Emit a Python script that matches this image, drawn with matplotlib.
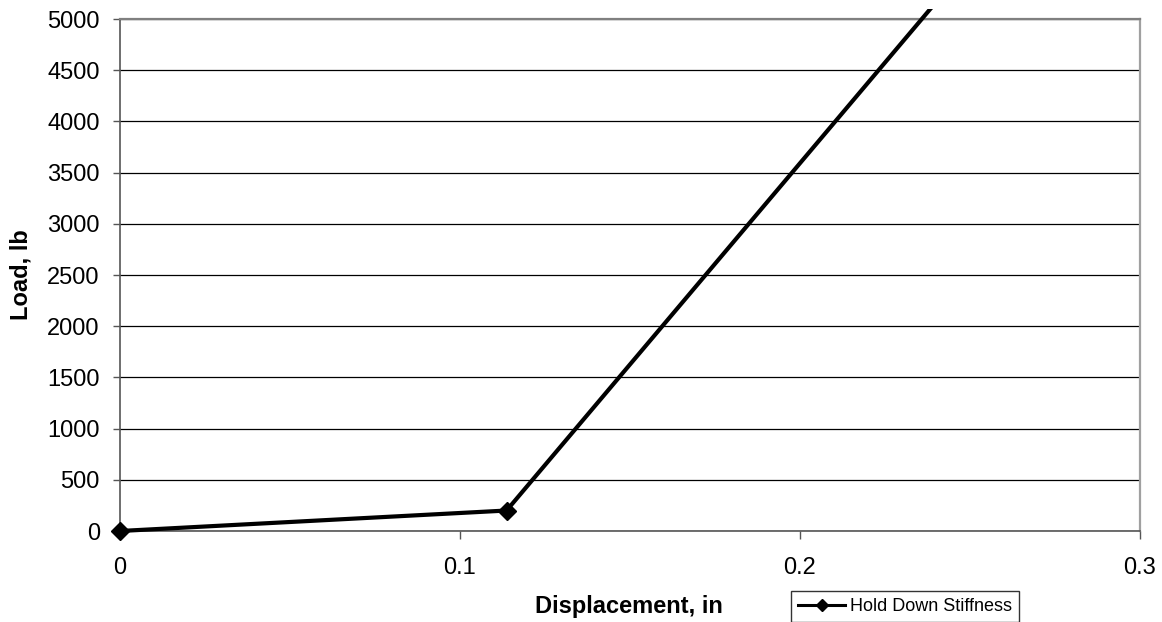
import matplotlib

matplotlib.use("Agg")
import matplotlib.pyplot as plt
from matplotlib.transforms import Bbox, TransformedBbox

# Hold-down stiffness test: displacement (in) vs load (lb)
displacement = [0.0, 0.1137, 0.26]
load = [0.0, 200.0, 5950.0]

x_ticks = [0.0, 0.1, 0.2, 0.3]
x_tick_labels = ["0", "0.1", "0.2", "0.3"]
y_ticks = list(range(0, 5001, 500))

plt.rcParams["font.family"] = ["Liberation Sans", "DejaVu Sans"]

W, H = 1162, 622
fig = plt.figure(figsize=(W / 100, H / 100), dpi=100)
ax = fig.add_axes([120 / W, 91 / H, 1020 / W, 512 / H])

(line,) = ax.plot(displacement, load, color="black", lw=3, marker="D", ms=9,
                  label="Hold Down Stiffness", zorder=5)
# the series runs a little past the top of the plot area before it is cut
line.set_clip_box(TransformedBbox(Bbox([[-0.05, -0.05], [1.05, 1 + 10 / 512]]),
                                  ax.transAxes))

ax.set_xlim(0, 0.3)
ax.set_ylim(0, 5000)
ax.set_xticks(x_ticks)
ax.set_xticklabels(x_tick_labels)
ax.set_yticks(y_ticks)

ax.yaxis.grid(True, color="black", lw=0.9)
ax.set_axisbelow(True)

ax.spines["top"].set_color("#808080")
ax.spines["right"].set_color("#a0a0a0")
for side in ("top", "right"):
    ax.spines[side].set_linewidth(1.6)
for side in ("left", "bottom"):
    ax.spines[side].set_color("#555555")
    ax.spines[side].set_linewidth(1.2)

ax.tick_params(axis="y", length=5, width=1, color="#555555", pad=9.5, labelsize=17)
ax.tick_params(axis="x", length=5.5, width=1, color="#555555", pad=13, labelsize=17)

ax.set_xlabel("Displacement, in", fontsize=17, fontweight="bold")
ax.xaxis.set_label_coords(629 / W, (H - 595.5) / H, transform=fig.transFigure)
ax.set_ylabel("Load, lb", fontsize=17, fontweight="bold")
ax.yaxis.set_label_coords(33 / W, (H - 275) / H, transform=fig.transFigure)

leg = fig.legend(loc="upper left", bbox_to_anchor=(791 / W, (H - 591) / H),
                 borderaxespad=0, fontsize=13, frameon=True, fancybox=False,
                 handlelength=2.6, handletextpad=0.25, borderpad=0.4,
                 markerscale=0.7)
leg.get_frame().set_edgecolor("black")
leg.get_frame().set_linewidth(1.0)
for h in leg.legend_handles:
    h.set_linewidth(2.2)

fig.savefig("out.png", dpi=100)
